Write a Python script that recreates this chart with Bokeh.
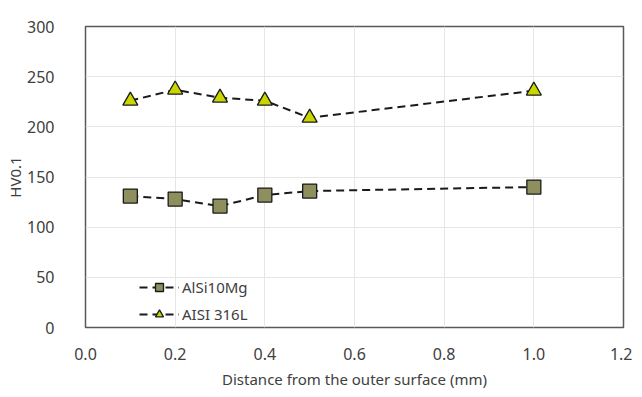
from bokeh.plotting import figure
from bokeh.models import Range1d, FixedTicker, Legend, LegendItem, CustomJSTickFormatter
from bokeh.embed import file_html
from bokeh.resources import INLINE

distance = [0.1, 0.2, 0.3, 0.4, 0.5, 1.0]
alsi10mg = [131, 128, 121, 132, 136, 140]
aisi316l = [226, 237, 229, 226, 209, 236]
x_ticks = [0.0, 0.2, 0.4, 0.6, 0.8, 1.0, 1.2]
y_ticks = [0, 50, 100, 150, 200, 250, 300]

FONT = "Noto Sans"
TXT = "#404040"

p = figure(width=632, height=392, output_backend="svg", toolbar_location=None,
           x_range=Range1d(0, 1.2), y_range=Range1d(0, 300),
           min_border_left=85, min_border_top=26, min_border_right=9, min_border_bottom=65)
p.outline_line_color = "#595959"
p.outline_line_width = 1.5
p.background_fill_color = "white"
p.border_fill_color = "white"

p.xaxis.ticker = FixedTicker(ticks=x_ticks)
p.yaxis.ticker = FixedTicker(ticks=y_ticks)
p.xaxis.formatter = CustomJSTickFormatter(code="return tick.toFixed(1);")
for ax in (p.xaxis[0], p.yaxis[0]):
    ax.axis_line_color = None
    ax.major_tick_line_color = None
    ax.minor_tick_line_color = None
    ax.major_label_text_font = FONT
    ax.major_label_text_font_size = "16px"
    ax.major_label_text_color = TXT
    ax.axis_label_text_font = FONT
    ax.axis_label_text_font_size = "15px"
    ax.axis_label_text_color = TXT
    ax.axis_label_text_font_style = "normal"
p.xaxis.axis_label = "Distance from the outer surface (mm)"
p.yaxis.axis_label = "HV0.1"
p.xaxis.major_label_standoff = 14
p.yaxis.major_label_standoff = 25
p.xaxis.axis_label_standoff = 6
p.yaxis.axis_label_standoff = -1

p.xgrid.grid_line_color = "#e6e6e6"
p.ygrid.grid_line_color = "#e6e6e6"

l1 = p.line(distance, alsi10mg, line_color="#1a1a1a", line_width=2, line_dash="8 5")
s1 = p.scatter(distance, alsi10mg, marker="square", size=14, fill_color="#8f8f5e",
               line_color="#1a1a1a", line_width=1.3)
l2 = p.line(distance, aisi316l, line_color="#1a1a1a", line_width=2, line_dash="8 5")
s2 = p.scatter(distance, aisi316l, marker="triangle", size=15, fill_color="#c9d600",
               line_color="#1a1a1a", line_width=1.3)

legend = Legend(items=[LegendItem(label="AlSi10Mg", renderers=[l1, s1]),
                       LegendItem(label="AISI 316L", renderers=[l2, s2])],
                location=(54, 3))
legend.background_fill_alpha = 0
legend.border_line_color = None
legend.label_text_font = FONT
legend.label_text_font_size = "15px"
legend.label_text_color = TXT
legend.glyph_width = 40
legend.glyph_height = 20
legend.label_standoff = 3
legend.spacing = 7
legend.padding = 4
p.add_layout(legend)

open("out.html", "w").write(file_html(p, INLINE))
